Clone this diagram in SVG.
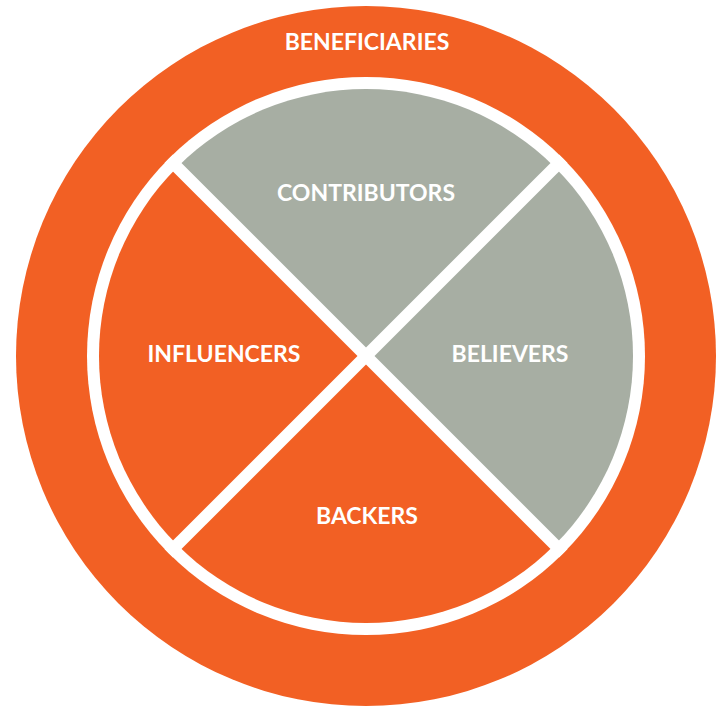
<svg xmlns="http://www.w3.org/2000/svg" width="725" height="707" viewBox="0 0 725 707">
<style>
.or{fill:#F26024}
.gr{fill:#A7AEA3}
.lbl{font-family:Lato,"Open Sans",sans-serif;font-weight:bold;font-size:23px;fill:#fff;text-anchor:middle}
</style>
<rect width="725" height="707" fill="#fff"/>
<g id="beneficiaries">
<circle cx="366" cy="356" r="350" class="or"/>
<text x="367" y="50" class="lbl">BENEFICIARIES</text>
</g>
<circle cx="366" cy="356" r="279" fill="#fff"/>
<g id="contributors">
<path d="M366,356 L177.2,167.2 A267,267 0 0 1 554.8,167.2 Z" class="gr"/>
<text x="366" y="201" class="lbl">CONTRIBUTORS</text>
</g>
<g id="believers">
<path d="M366,356 L554.8,167.2 A267,267 0 0 1 554.8,544.8 Z" class="gr"/>
<text x="510" y="362" class="lbl">BELIEVERS</text>
</g>
<g id="backers">
<path d="M366,356 L554.8,544.8 A267,267 0 0 1 177.2,544.8 Z" class="or"/>
<text x="367" y="524" class="lbl">BACKERS</text>
</g>
<g id="influencers">
<path d="M366,356 L177.2,544.8 A267,267 0 0 1 177.2,167.2 Z" class="or"/>
<text x="224" y="362" class="lbl">INFLUENCERS</text>
</g>
<g id="connectors" stroke="#fff" stroke-width="12">
<line x1="168.7" y1="158.7" x2="563.3" y2="553.3"/>
<line x1="563.3" y1="158.7" x2="168.7" y2="553.3"/>
</g>
</svg>
